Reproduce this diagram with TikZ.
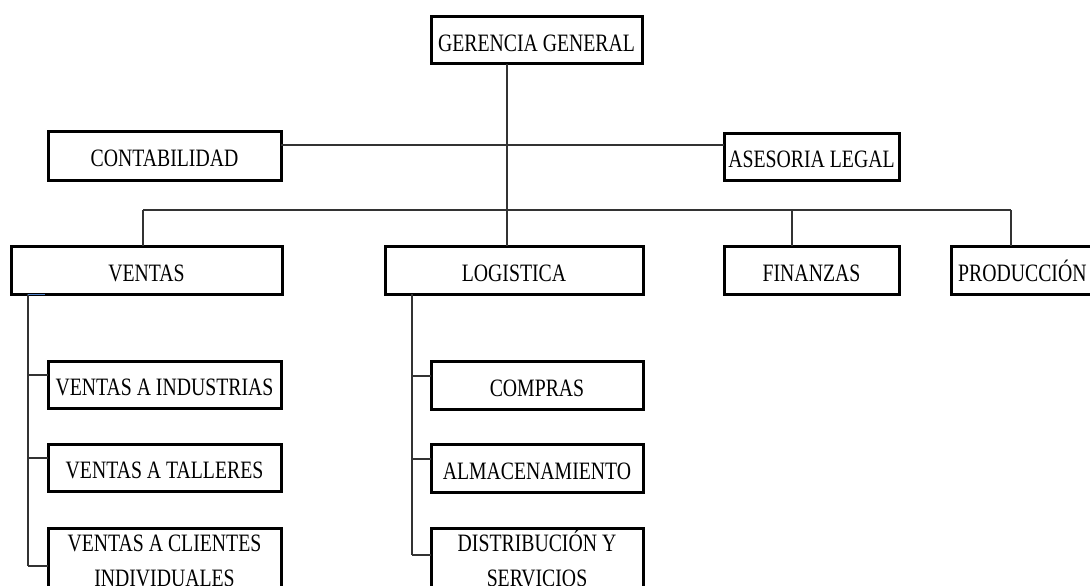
\documentclass[tikz,border=0pt]{standalone}
\usepackage{fontspec}
\setmainfont[FakeStretch=0.79]{Liberation Serif}
\begin{document}
\begin{tikzpicture}[x=1pt,y=-1pt,
  box/.style={draw, line width=3pt, inner sep=0pt, outer sep=0pt, anchor=north west,
    text height=22.5pt, text depth=0pt, font=\fontsize{25}{35}\selectfont},
  twoline/.style={anchor=base, inner sep=0pt, font=\fontsize{25}{35}\selectfont},
  conn/.style={line width=1.2pt, draw=black!80}]
\clip (0,0) rectangle (1090,586);
\fill[white] (0,0) rectangle (1090,586);

% boxes
\node[box, minimum width=211pt, minimum height=47pt] (gg) at (431,17) {GERENCIA GENERAL};
\node[box, minimum width=233pt, minimum height=49pt] (cont) at (48,131) {CONTABILIDAD};
\node[box, minimum width=175pt, minimum height=47pt] (ases) at (724,133) {ASESORIA LEGAL};
\node[box, minimum width=271pt, minimum height=48pt] (ventas) at (11,246) {VENTAS};
\node[box, minimum width=258pt, minimum height=48pt] (log) at (385,246) {LOGISTICA};
\node[box, minimum width=175pt, minimum height=48pt] (fin) at (724,246) {FINANZAS};
\node[box, minimum width=160pt, minimum height=48pt] (prod) at (951,246) {};
\node[twoline, anchor=west, text height=22.5pt, text depth=0pt] (prodt) at (958,270) {PRODUCCIÓN};

\node[box, minimum width=233pt, minimum height=47pt] (vi) at (48,361) {VENTAS A INDUSTRIAS};
\node[box, minimum width=233pt, minimum height=47pt] (vta) at (48,444) {VENTAS A TALLERES};
\node[box, minimum width=233pt, minimum height=82pt] (vc) at (48,528) {};
\node[twoline] (vct) at ([yshift=-23.5pt]vc.north) {\begin{tabular}[t]{@{}c@{}}VENTAS A CLIENTES\\INDIVIDUALES\end{tabular}};

\node[box, minimum width=212pt, minimum height=48pt] (comp) at (431,361) {COMPRAS};
\node[box, minimum width=212pt, minimum height=48pt] (alm) at (431,444) {ALMACENAMIENTO};
\node[box, minimum width=212pt, minimum height=82pt] (dist) at (431,528) {};
\node[twoline] (distt) at ([yshift=-23.5pt]dist.north) {\begin{tabular}[t]{@{}c@{}}DISTRIBUCIÓN Y\\SERVICIOS\end{tabular}};

% connectors
\draw[conn] ([xshift=-29.5pt]gg.south) -- ([xshift=-7pt]log.north);
\draw[conn] ([yshift=10.5pt]cont.east) -- ([yshift=11.5pt]ases.west);

\coordinate (bl) at (143,210);
\coordinate (bf) at (792,210);
\coordinate (br) at (1011,210);
\draw[conn] (bl) -- (br);
\draw[conn] (bl) -- (bl |- ventas.north);
\draw[conn] (bf) -- (bf |- fin.north);
\draw[conn] (br) -- (br |- prod.north);

% ventas subtree
\coordinate (vtop) at (28,294);
\coordinate (vbot) at (28,566);
\coordinate (v1) at (28,375);
\coordinate (v2) at (28,458);
\coordinate (vtick) at (45,294);
\draw[conn] (vtop) -- (vbot);
\draw[conn] (v1) -- (vi.west |- v1);
\draw[conn] (v2) -- (vta.west |- v2);
\draw[conn] (vbot) -- (vc.west |- vbot);
\draw[line width=1pt, draw={rgb,255:red,80;green,130;blue,200}] (vtop) -- (vtick);

% logistica subtree
\coordinate (ltop) at (412,294);
\coordinate (lbot) at (412,555);
\coordinate (l1) at (412,376);
\coordinate (l2) at (412,459);
\draw[conn] (ltop) -- (lbot);
\draw[conn] (l1) -- (comp.west |- l1);
\draw[conn] (l2) -- (alm.west |- l2);
\draw[conn] (lbot) -- (dist.west |- lbot);
\end{tikzpicture}
\end{document}
